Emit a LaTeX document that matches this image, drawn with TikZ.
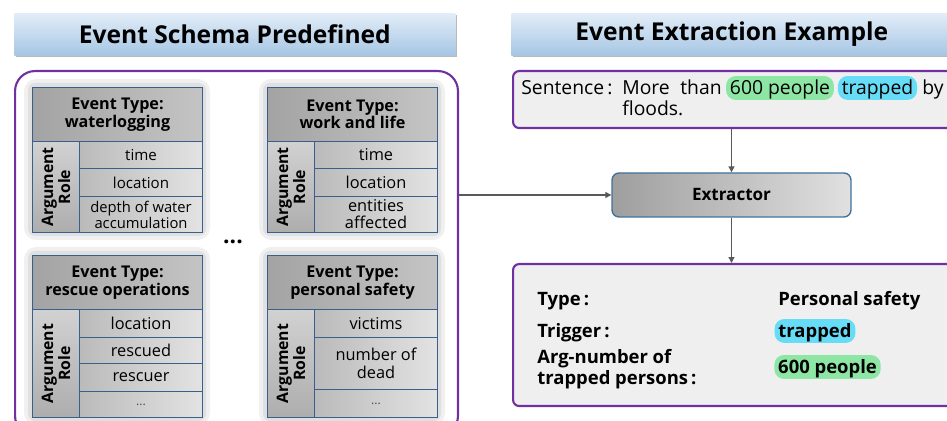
\documentclass[tikz,border=0pt]{standalone}
\usepackage{fontspec}
\setmainfont{Open Sans}
\usetikzlibrary{arrows.meta,shadows,calc}
\definecolor{purp}{HTML}{7030A0}
\definecolor{tblb}{HTML}{3A5F8C}
\definecolor{titletop}{HTML}{E2EDF8}
\definecolor{titlebot}{HTML}{A6C6E4}
\definecolor{hlgreen}{HTML}{8EE6A4}
\definecolor{hlcyan}{HTML}{66DCF7}
\definecolor{boxfill}{HTML}{EFEFEF}
\definecolor{extrb}{HTML}{41719C}
\definecolor{arrowc}{HTML}{595959}
\newcommand\fsz[2]{\fontsize{#1pt}{#2pt}\selectfont}
\begin{document}
\begin{tikzpicture}[x=0.02cm,y=-0.02cm,
 titlebar/.style={top color=titletop,bottom color=titlebot,draw=none,
   minimum width=8.82cm,minimum height=0.84cm,anchor=north west,
   font=\fsz{14}{16}\bfseries,
   drop shadow={shadow xshift=1.2pt,shadow yshift=-1.2pt,opacity=0.45,fill=black!60}},
 pbox/.style={draw=purp,line width=1.2pt,anchor=north west},
 hdr/.style={draw=tblb,line width=0.6pt,left color=black!36,right color=black!23,
   minimum width=3.4cm,minimum height=1.08cm,anchor=north west,align=center,
   font=\fsz{9.2}{10}\bfseries,inner sep=1pt},
 cellbox/.style={draw=tblb,line width=0.6pt,left color=black!27,right color=black!11,
   minimum width=2.46cm,anchor=north west,align=center,inner xsep=1pt,inner ysep=0pt},
 argbox/.style={draw=tblb,line width=0.6pt,top color=black!18,bottom color=black!32,
   minimum width=0.94cm,anchor=north west,inner sep=0pt},
 argtxt/.style={rotate=90,align=center,font=\fsz{9}{9.8}\bfseries,inner sep=0pt},
 halo/.style={fill=black!6,rounded corners=7pt},
 halo2/.style={fill=black!12,rounded corners=4pt},
 word/.style={anchor=base west,inner sep=0pt,font=\fsz{11}{13}},
 hlg/.style={fill=hlgreen,rounded corners=5.5pt,anchor=base,inner xsep=2.2pt,inner ysep=0pt,
   text height=10.8pt,text depth=2.8pt},
 hlc/.style={fill=hlcyan,rounded corners=5.5pt,anchor=base,inner xsep=2.2pt,inner ysep=0pt,
   text height=10.8pt,text depth=2.8pt},
 rword/.style={anchor=base west,inner sep=0pt,font=\fsz{10.5}{12}\bfseries},
 extrst/.style={draw=extrb,line width=0.8pt,rounded corners=4pt,left color=black!38,
   right color=black!12,minimum width=4.78cm,minimum height=0.88cm,font=\fsz{9.7}{11}\bfseries},
 arr/.style={draw=arrowc,line width=0.7pt,-{Triangle[length=3.4pt,width=3.4pt]}}
]
\useasboundingbox (0,0) rectangle (947,421);

% ---------------- titles
\node[titlebar] (ltitle) at (14,13) {Event Schema Predefined};
\node[titlebar] (rtitle) at (511,13) {Event Extraction Example};

% ---------------- left schema box
\node[pbox,fill=white,rounded corners=0.4cm,minimum width=8.86cm,minimum height=7.3cm] (schema) at (14,70) {};

% halos behind tables
\foreach \a/\b/\c/\d in {32/87/202/232, 267/87/437/232, 32/255/202/417, 267/255/437/417}{
  \fill[halo] (\a-8,\b-8) rectangle (\c+8,\d+8);
  \fill[halo2] (\a-4,\b-4) rectangle (\c+4,\d+4);
}

% table 1
\node[hdr] (t1h) at (32,87) {Event Type:\\waterlogging};
\node[argbox,minimum height=1.82cm] (t1a) at (32,141) {};
\node[argtxt] (t1at) at (t1a.center) {Argument\\Role};
\node[cellbox,minimum height=0.54cm,font=\fsz{8.6}{9.2}] (t1c1) at (79,141) {time};
\node[cellbox,minimum height=0.56cm,font=\fsz{8.6}{9.2}] (t1c2) at (79,168) {location};
\node[cellbox,minimum height=0.72cm,font=\fsz{8.4}{9.2}] (t1c3) at (79,196) {depth of water\\accumulation};

% table 2
\node[hdr] (t2h) at (267,87) {Event Type:\\work and life};
\node[argbox,minimum height=1.82cm] (t2a) at (267,141) {};
\node[argtxt] (t2at) at (t2a.center) {Argument\\Role};
\node[cellbox,minimum height=0.54cm,font=\fsz{9.3}{9.6}] (t2c1) at (314,141) {time};
\node[cellbox,minimum height=0.56cm,font=\fsz{9.3}{9.6}] (t2c2) at (314,168) {location};
\node[cellbox,minimum height=0.72cm,font=\fsz{9.3}{9.6}] (t2c3) at (314,196) {entities\\affected};

% table 3
\node[hdr] (t3h) at (32,255) {Event Type:\\rescue operations};
\node[argbox,minimum height=2.16cm] (t3a) at (32,309) {};
\node[argtxt] (t3at) at (t3a.center) {Argument\\Role};
\node[cellbox,minimum height=0.56cm,font=\fsz{9.3}{9.6}] (t3c1) at (79,309) {location};
\node[cellbox,minimum height=0.52cm,font=\fsz{9.3}{9.6}] (t3c2) at (79,337) {rescued};
\node[cellbox,minimum height=0.56cm,font=\fsz{9.3}{9.6}] (t3c3) at (79,363) {rescuer};
\node[cellbox,minimum height=0.52cm,font=\fsz{7}{8}\color{black!70}] (t3c4) at (79,391) {...};

% table 4
\node[hdr] (t4h) at (267,255) {Event Type:\\personal safety};
\node[argbox,minimum height=2.16cm] (t4a) at (267,309) {};
\node[argtxt] (t4at) at (t4a.center) {Argument\\Role};
\node[cellbox,minimum height=0.56cm,font=\fsz{9.3}{9.6}] (t4c1) at (314,309) {victims};
\node[cellbox,minimum height=1.04cm,font=\fsz{9.3}{10.2}] (t4c2) at (314,337) {number of\\dead};
\node[cellbox,minimum height=0.56cm,font=\fsz{7}{8}\color{black!70}] (t4c3) at (314,389) {...};

\node[font=\fsz{13}{14}\bfseries,inner sep=0pt] (dots) at (233,242) {...};

% ---------------- sentence box
\node[pbox,fill=boxfill,rounded corners=3.5pt,minimum width=8.8cm,minimum height=1.14cm] (sent) at (512,70) {};
\node[word] (sl) at (521,95) {Sentence\,:};
\node[word] (w1) at (622,95) {More};
\node[word] (w2) at (680,95) {than};
\node[hlg,font=\fsz{11}{13}] (w3) at (780,95) {600 people};
\node[hlc,font=\fsz{11}{13}] (w4) at (877.5,95) {trapped};
\node[word] (w5) at (922,95) {by};
\node[word] (w6) at (622,116) {floods.};

% ---------------- extractor
\node[extrst] (extr) at (731.5,195) {Extractor};

% ---------------- result box
\node[pbox,fill=boxfill,rounded corners=3.5pt,minimum width=8.8cm,minimum height=2.84cm] (res) at (512,263) {};
\node[rword] (ltype) at (537,306) {Type\,:};
\node[rword] (ltrig) at (537,338) {Trigger\,:};
\node[rword] (larg1) at (537,364) {Arg-number of};
\node[rword] (larg2) at (537,385) {trapped persons\,:};
\node[rword] (vtype) at (778,306) {Personal safety};
\node[hlc,font=\fsz{10.5}{12}\bfseries] (vtrig) at (815,338) {trapped};
\node[hlg,font=\fsz{10.5}{12}\bfseries] (varg) at (827.5,374) {600 people};

% ---------------- connectors
\draw[arr] (schema.east |- extr.west) -- (extr.west);
\draw[arr] (extr.north |- sent.south) -- (extr.north);
\draw[arr] (extr.south) -- (extr.south |- res.north);
\end{tikzpicture}
\end{document}
